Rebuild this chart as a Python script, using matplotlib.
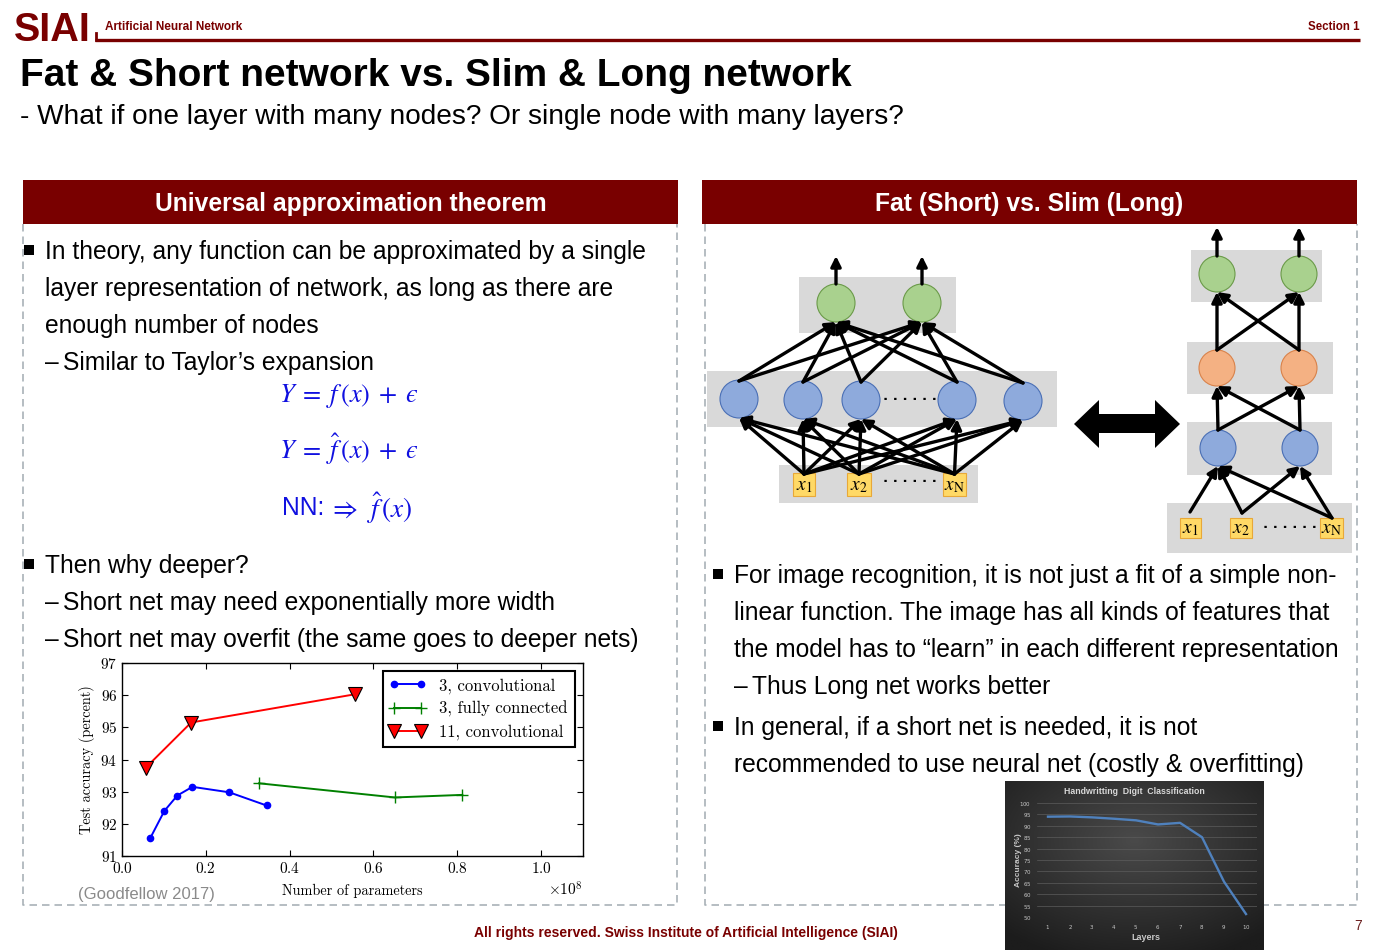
import numpy as np
import matplotlib
matplotlib.use("Agg")
import matplotlib.pyplot as plt
from matplotlib.patches import Rectangle, Circle, Polygon, FancyArrowPatch
from matplotlib.colors import LinearSegmentedColormap

plt.rcParams['axes.formatter.use_mathtext'] = True
plt.rcParams['mathtext.fontset'] = 'cm'

W, H = 1377, 952
SANS = "Liberation Sans"
MAROON = "#790000"
DASH = "#a9b2b8"
EQ_BLUE = "#1010e0"
DY = 2  # text centre correction

# Goodfellow (2017): test accuracy vs number of parameters
conv3_params = [0.068e8, 0.101e8, 0.132e8, 0.168e8, 0.256e8, 0.345e8]
conv3_acc = [91.57, 92.40, 92.88, 93.15, 92.98, 92.57]
fc3_params = [0.327e8, 0.651e8, 0.812e8]
fc3_acc = [93.26, 92.82, 92.90]
conv11_params = [0.057e8, 0.165e8, 0.557e8]
conv11_acc = [93.75, 95.15, 96.03]
series_labels = ["3, convolutional", "3, fully connected", "11, convolutional"]

# Handwriting digit classification: accuracy vs layers
layers = [1, 2, 3, 4, 5, 6, 7, 8, 9, 10]
layer_acc = [94.0, 94.1, 93.7, 93.1, 92.4, 90.6, 91.3, 85.0, 65.5, 51.3]

left_text = [
    ("bullet", "In theory, any function can be approximated by a single", 250),
    ("cont", "layer representation of network, as long as there are", 287),
    ("cont", "enough number of nodes", 324),
    ("dash", "Similar to Taylor\u2019s expansion", 361),
    ("bullet", "Then why deeper?", 564),
    ("dash", "Short net may need exponentially more width", 601),
    ("dash", "Short net may overfit (the same goes to deeper nets)", 638),
]
right_text = [
    ("bullet", "For image recognition, it is not just a fit of a simple non-", 574),
    ("cont", "linear function. The image has all kinds of features that", 611),
    ("cont", "the model has to \u201clearn\u201d in each different representation", 648),
    ("dash", "Thus Long net works better", 685),
    ("bullet", "In general, if a short net is needed, it is not", 726),
    ("cont", "recommended to use neural net (costly & overfitting)", 763),
]


def px_axes(x0, y0, x1, y1):
    return [x0 / W, 1 - y1 / H, (x1 - x0) / W, (y1 - y0) / H]


fig = plt.figure(figsize=(W / 100, H / 100), dpi=100)
ax = fig.add_axes([0, 0, 1, 1])
ax.set_xlim(0, W)
ax.set_ylim(H, 0)
ax.axis("off")

# header
ax.text(14, 41, "SIAI", fontsize=28.5, fontweight="bold", color=MAROON, family=SANS, va="baseline")
ax.plot([95, 1360], [39.5, 39.5], color=MAROON, lw=2.4, solid_capstyle="butt")
ax.plot([95.5, 95.5], [33, 40], color=MAROON, lw=2.0)
ax.text(105, 25 + DY, "Artificial Neural Network", fontsize=8.5, fontweight="bold", color=MAROON, family=SANS,
        va="center")
ax.text(1360, 25 + DY, "Section 1", fontsize=8.3, fontweight="bold", color=MAROON, family=SANS, va="center",
        ha="right")
ax.text(20, 74 + DY, "Fat & Short network vs. Slim & Long network", fontsize=28, fontweight="bold", family=SANS,
        va="center")
ax.text(20, 115 + DY, "- What if one layer with many nodes? Or single node with many layers?", fontsize=20.2,
        family=SANS, va="center")

# boxes
for x0, x1, title in [(23, 678, "Universal approximation theorem"), (702, 1357, "Fat (Short) vs. Slim (Long)")]:
    ax.add_patch(Rectangle((x0, 180), x1 - x0, 44, fc=MAROON, ec="none"))
    ax.text((x0 + x1) / 2, 202 + DY, title, fontsize=17.7, fontweight="bold", color="white", family=SANS,
            ha="center", va="center")
for xl, xr in [(23, 677), (705, 1357)]:
    ax.plot([xl, xl, xr, xr], [224, 905, 905, 224], color=DASH, lw=1.2, dashes=(4.5, 3))


def body(lines, xb, xt):
    for kind, txt, y in lines:
        x = xt
        if kind == "bullet":
            ax.add_patch(Rectangle((xb, y - 5), 10, 10, fc="black", ec="none"))
        elif kind == "dash":
            ax.text(xt, y + DY, "\u2013", fontsize=17.7, family=SANS, va="center")
            x = xt + 18
        ax.text(x, y + DY, txt, fontsize=17.7, family=SANS, va="center")


body(left_text, 24, 45)
body(right_text, 713, 734)

# equations
EPS = "\u03f5"
ax.text(279, 394 + DY, r"$Y\;=\;f\,(x)\;+\;" + EPS + "$", fontsize=19, color=EQ_BLUE, va="center",
        math_fontfamily="stix")
ax.text(279, 447 + DY, r"$Y\;=\;\hat{f}\,(x)\;+\;" + EPS + "$", fontsize=19, color=EQ_BLUE, va="center",
        math_fontfamily="stix")
ax.text(282, 506 + DY, "NN:", fontsize=17.7, color=EQ_BLUE, family=SANS, va="center")
ax.text(329, 506 + DY, r"$\Rightarrow\;\,\hat{f}\,(x)$", fontsize=19.5, color=EQ_BLUE, va="center",
        math_fontfamily="stix")

# footer
ax.text(686, 931 + DY, "All rights reserved. Swiss Institute of Artificial Intelligence (SIAI)", fontsize=10,
        fontweight="bold", color=MAROON, family=SANS, ha="center", va="center")
ax.text(1358, 924 + DY, "7", fontsize=10, color="#6b2020", family=SANS, ha="center", va="center")
ax.text(78, 892 + DY, "(Goodfellow 2017)", fontsize=12, color="#8a8a8a", family=SANS, va="center")

# network diagrams
GRAY = "#d9d9d9"
NODE = {"g": ("#a9d18e", "#6a9a48"), "b": ("#8eaadc", "#4a6fb5"), "o": ("#f4b183", "#d9824a")}


def band(x0, y0, x1, y1):
    ax.add_patch(Rectangle((x0, y0), x1 - x0, y1 - y0, fc=GRAY, ec="none"))


def node(c, r, kind):
    fc, ec = NODE[kind]
    ax.add_patch(Circle(c, r, fc=fc, ec=ec, lw=0.8, zorder=3))


def inbox(x0, x1, y0, y1, label):
    ax.add_patch(Rectangle((x0, y0), x1 - x0, y1 - y0, fc="#ffd966", ec="#e8a838", lw=0.8, zorder=3))
    ax.text((x0 + x1) / 2, (y0 + y1) / 2 + 1, label, fontsize=14, va="center", ha="center",
            math_fontfamily="stix", zorder=4)


def arrow(p0, p1):
    ax.add_patch(FancyArrowPatch(p0, p1, arrowstyle="-|>", mutation_scale=15, lw=2.4, color="black",
                                 shrinkA=0, shrinkB=0, zorder=5))


def dots(x, y):
    ax.text(x, y, ". . . . . .", fontsize=9.5, fontweight="bold", ha="center", va="center", zorder=4)


labels_in = [r"$x_1$", r"$x_2$", r"$x_\mathrm{N}$"]

# fat (short)
band(799, 277, 956, 333)
band(707, 371, 1057, 427)
band(779, 465, 978, 503)
R = 19
fat_out = [(836, 303), (922, 303)]
fat_hid = [(739, 399), (803, 400), (861, 400), (957, 400), (1023, 401)]
fat_in = [(793, 815), (847, 871), (943, 966)]
for c in fat_out:
    node(c, R, "g")
    arrow((c[0], c[1] - R), (c[0], 256))
for c in fat_hid:
    node(c, R, "b")
for (a, b), lab in zip(fat_in, labels_in):
    inbox(a, b, 473, 496, lab)
for h in fat_hid:
    for o in fat_out:
        arrow((h[0], h[1] - R + 1), (o[0], o[1] + R))
for a, b in fat_in:
    for h in fat_hid:
        arrow(((a + b) / 2, 474), (h[0], h[1] + R))
dots(910, 396)
dots(910, 478)

# slim (long)
band(1191, 250, 1322, 302)
band(1187, 342, 1333, 394)
band(1187, 422, 1332, 475)
band(1167, 503, 1352, 553)
r = 18
slim_out = [(1217, 274), (1299, 274)]
slim_mid = [(1217, 368), (1299, 368)]
slim_hid = [(1218, 448), (1300, 448)]
slim_in = [(1180, 1201), (1230, 1252), (1320, 1343)]
for c in slim_out:
    node(c, r, "g")
    arrow((c[0], c[1] - r), (c[0], 227))
for c in slim_mid:
    node(c, r, "o")
for c in slim_hid:
    node(c, r, "b")
for (a, b), lab in zip(slim_in, labels_in):
    inbox(a, b, 518, 538, lab)
for lo, hi in [(slim_mid, slim_out), (slim_hid, slim_mid)]:
    for s in lo:
        for t in hi:
            arrow((s[0], s[1] - r), (t[0], t[1] + r))
for s, targets in [((1190, 512), [0]), ((1242, 513), [0, 1]), ((1332, 518), [0, 1])]:
    for t in targets:
        h = slim_hid[t]
        arrow(s, (h[0], h[1] + r))
dots(1290, 524)

# double arrow
ax.add_patch(Polygon([(1074, 424), (1099, 400), (1099, 414), (1155, 414), (1155, 400), (1180, 424),
                      (1155, 448), (1155, 433), (1099, 433), (1099, 448)], closed=True, fc="black", ec="none"))

# Goodfellow chart
gax = fig.add_axes(px_axes(122, 663, 583, 856))
gax.plot(conv3_params, conv3_acc, color="#0000ff", marker="o", ms=4.5, lw=1.4, label=series_labels[0])
gax.plot(fc3_params, fc3_acc, color="#008000", marker="+", ms=9, mew=1.0, lw=1.4, label=series_labels[1])
gax.plot(conv11_params, conv11_acc, color="#ff0000", marker="v", ms=10, mec="black", mew=0.8, lw=1.4,
         label=series_labels[2])
gax.set_xlim(0, 1.1e8)
gax.set_ylim(91, 97)
gax.set_xticks([0, 0.2e8, 0.4e8, 0.6e8, 0.8e8, 1.0e8])
gax.set_yticks([91, 92, 93, 94, 95, 96, 97])
gax.tick_params(direction="in", top=True, right=True, labelsize=11, length=4)
for lab in gax.get_xticklabels() + gax.get_yticklabels():
    lab.set_fontfamily("cmr10")
off = gax.xaxis.get_offset_text()
off.set_fontsize(11)
off.set_fontfamily("cmr10")
gax.set_xlabel("Number of parameters", fontsize=10.3, fontfamily="cmr10", labelpad=6)
gax.set_ylabel("Test accuracy (percent)", fontsize=10.3, fontfamily="cmr10", labelpad=4)
for sp in gax.spines.values():
    sp.set_linewidth(1.0)
leg = gax.legend(loc="upper right", prop={"family": "cmr10", "size": 12}, numpoints=2, fancybox=False,
                 edgecolor="black", framealpha=1, borderaxespad=0.5, handlelength=2.2, labelspacing=0.42,
                 borderpad=0.4)
leg.get_frame().set_linewidth(1.5)

# handwriting digit chart (dark image)
bg = fig.add_axes(px_axes(1005, 781, 1264, 950))
yy, xx = np.mgrid[-1:1:120j, -1:1:180j]
grad = np.sqrt(xx ** 2 + (yy + 0.3) ** 2)
bg.imshow(grad, cmap=LinearSegmentedColormap.from_list("dk", ["#4a4a4a", "#1c1c1c"]), vmin=0, vmax=1.5,
          aspect="auto", extent=(0, 1, 0, 1))
bg.axis("off")
hax = fig.add_axes(px_axes(1037, 803, 1257, 917))
hax.patch.set_alpha(0)
hax.plot(layers, layer_acc, color="#4f81bd", lw=1.7)
hax.set_xlim(0.5, 10.5)
hax.set_ylim(50, 100)
hax.set_xticks(layers)
hax.set_yticks(range(50, 101, 5))
hax.grid(axis="y", color="#5c5c5c", lw=0.5)
hax.set_axisbelow(True)
for sp in hax.spines.values():
    sp.set_visible(False)
hax.tick_params(length=0, labelsize=4, labelcolor="#c8c8c8", pad=4)
fig.text(1134, 791, "Handwritting  Digit  Classification", transform=ax.transData, fontsize=6.3,
         fontweight="bold", color="#d9d9d9", ha="center", va="center", family=SANS)
fig.text(1018, 860, "Accuracy (%)", transform=ax.transData, fontsize=6, fontweight="bold", color="#c8c8c8",
         ha="center", va="center", rotation=90, family=SANS)
fig.text(1146, 938, "Layers", transform=ax.transData, fontsize=6.5, fontweight="bold", color="#c8c8c8",
         ha="center", va="center", family=SANS)

fig.savefig("out.png", dpi=100)
